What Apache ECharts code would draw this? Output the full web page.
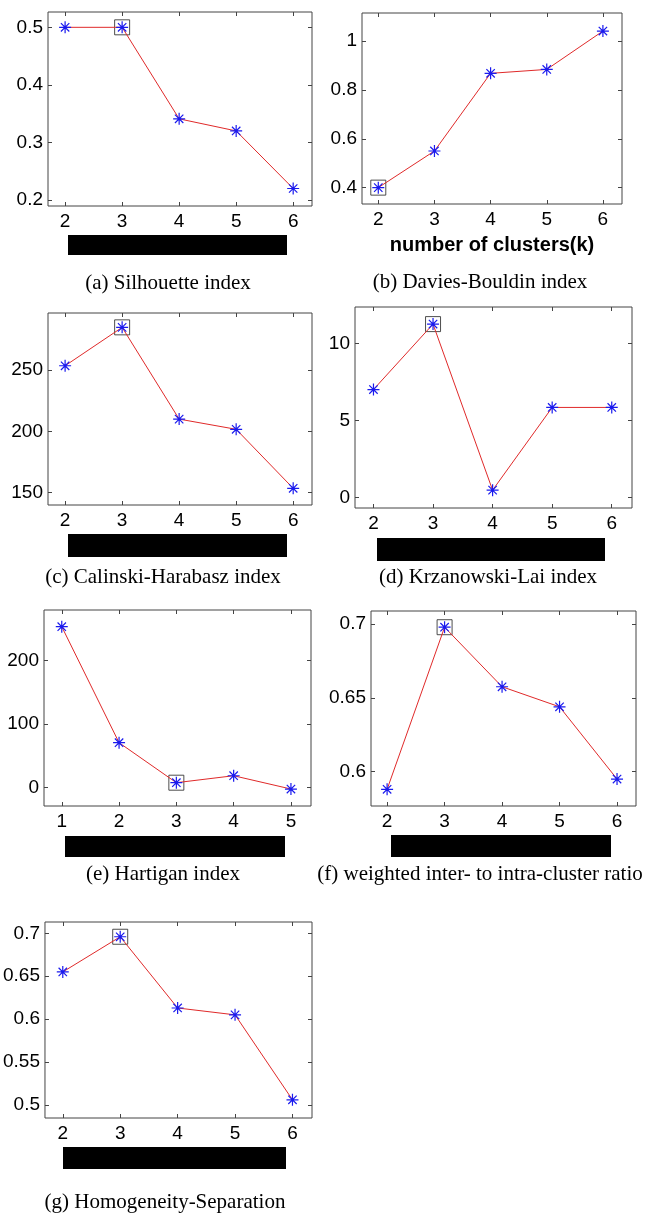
<!DOCTYPE html>
<html>
<head>
<meta charset="utf-8">
<script src="https://cdn.jsdelivr.net/npm/echarts@6/dist/echarts.min.js"></script>
<style>
html, body { margin: 0; padding: 0; background: #fff; }
#main { width: 664px; height: 1213px; }
</style>
</head>
<body>
<div id="main"></div>
<script>
// number of clusters on the x axis
var kTicks = [2, 3, 4, 5, 6];
var kTicksHartigan = [1, 2, 3, 4, 5];

// index values, one array per panel
var silhouette = [0.5, 0.5, 0.341, 0.32, 0.22];
var daviesBouldin = [0.40, 0.55, 0.868, 0.884, 1.041];
var calinski = [253.5, 284.8, 210, 201.7, 153.6];
var krzanowski = [7.0, 11.25, 0.47, 5.84, 5.84];
var hartigan = [253.7, 70.5, 7.3, 18.3, -2.7];
var weightedRatio = [0.588, 0.698, 0.6576, 0.644, 0.595];
var homSep = [0.655, 0.696, 0.613, 0.605, 0.506];

// boxed (chosen) k per panel
var bestK = [3, 2, 3, 3, 3, 3, 3];

// y tick labels per panel
var yTicksA = [0.2, 0.3, 0.4, 0.5];
var yTicksB = [0.4, 0.6, 0.8, 1];
var yTicksC = [150, 200, 250];
var yTicksD = [0, 5, 10];
var yTicksE = [0, 100, 200];
var yTicksF = [0.6, 0.65, 0.7];
var yTicksG = [0.5, 0.55, 0.6, 0.65, 0.7];

var captions = [
  '(a) Silhouette index',
  '(b) Davies-Bouldin index',
  '(c) Calinski-Harabasz index',
  '(d) Krzanowski-Lai index',
  '(e) Hartigan index',
  '(f) weighted inter- to intra-cluster ratio',
  '(g) Homogeneity-Separation'
];
var xLabelB = 'number of clusters(k)';

// layout of the subplots (pixels) and axis ranges
var panels = [
  { vals: silhouette, xt: kTicks, yt: yTicksA, grid: [48, 12, 264, 194], x: [1.7, 6.33], y: [0.1896, 0.5266], bar: [68, 235, 219, 20], cap: [168, 283] },
  { vals: daviesBouldin, xt: kTicks, yt: yTicksB, grid: [362, 13, 260, 191], x: [1.71, 6.34], y: [0.333, 1.115], bar: null, cap: [480, 282] },
  { vals: calinski, xt: kTicks, yt: yTicksC, grid: [48, 313, 264, 192], x: [1.7, 6.33], y: [140, 296.5], bar: [68, 534, 219, 23], cap: [163, 577] },
  { vals: krzanowski, xt: kTicks, yt: yTicksD, grid: [355, 307, 277, 201], x: [1.69, 6.34], y: [-0.69, 12.36], bar: [377, 538, 228, 23], cap: [488, 577] },
  { vals: hartigan, xt: kTicksHartigan, yt: yTicksE, grid: [44, 610, 267, 196], x: [0.69, 5.35], y: [-29.5, 280], bar: [65, 836, 220, 21], cap: [163, 874] },
  { vals: weightedRatio, xt: kTicks, yt: yTicksF, grid: [371, 611, 265, 195], x: [1.72, 6.33], y: [0.5767, 0.709], bar: [391, 835, 220, 22], cap: [480, 874] },
  { vals: homSep, xt: kTicks, yt: yTicksG, grid: [43, 922, 269, 196], x: [1.69, 6.34], y: [0.4848, 0.7132], bar: [63, 1147, 223, 22], cap: [165, 1202] }
];

var star = 'path://M0,6L12,6M6,0L6,12M1.8,1.8L10.2,10.2M10.2,1.8L1.8,10.2';
var tickFont = 'Liberation Sans';

var grids = [], xAxes = [], yAxes = [], series = [], graphics = [];

panels.forEach(function (p, i) {
  grids.push({
    left: p.grid[0], top: p.grid[1], width: p.grid[2], height: p.grid[3],
    show: true, borderColor: '#444', borderWidth: 1, backgroundColor: '#fff'
  });
  ['bottom', 'top'].forEach(function (pos) {
    var ax = {
      type: 'value', gridIndex: i, position: pos, min: p.x[0], max: p.x[1],
      axisLine: { show: false, onZero: false }, splitLine: { show: false },
      axisTick: { inside: true, length: 4, lineStyle: { color: '#444' }, customValues: p.xt },
      axisLabel: {
        show: pos === 'bottom', customValues: p.xt, color: '#000',
        fontFamily: tickFont, fontSize: 19, margin: 6,
        formatter: function (v) { return String(v); }
      }
    };
    if (i === 1 && pos === 'bottom') {
      ax.name = xLabelB;
      ax.nameLocation = 'middle';
      ax.nameGap = 31;
      ax.nameTextStyle = { color: '#000', fontFamily: tickFont, fontWeight: 'bold', fontSize: 20 };
    }
    xAxes.push(ax);
  });
  ['left', 'right'].forEach(function (pos) {
    yAxes.push({
      type: 'value', gridIndex: i, position: pos, min: p.y[0], max: p.y[1],
      axisLine: { show: false, onZero: false }, splitLine: { show: false },
      axisTick: { inside: true, length: 4, lineStyle: { color: '#444' }, customValues: p.yt },
      axisLabel: {
        show: pos === 'left', customValues: p.yt, color: '#000',
        fontFamily: tickFont, fontSize: 19, margin: 5,
        formatter: function (v) { return String(v); }
      }
    });
  });

  var pts = p.xt.map(function (k, j) { return [k, p.vals[j]]; });
  var bi = p.xt.indexOf(bestK[i]);

  series.push({
    type: 'scatter', xAxisIndex: 2 * i, yAxisIndex: 2 * i,
    data: [pts[bi]], symbol: 'rect', symbolSize: 15, z: 2,
    itemStyle: { color: 'rgba(0,0,0,0)', borderColor: '#222', borderWidth: 1 },
    silent: true
  });
  series.push({
    type: 'line', xAxisIndex: 2 * i, yAxisIndex: 2 * i,
    data: pts, symbol: star, symbolSize: 12, showSymbol: true, z: 3,
    lineStyle: { color: '#e02a2a', width: 1 },
    itemStyle: { color: 'rgba(0,0,0,0)', borderColor: '#1a1aee', borderWidth: 1.2 },
    silent: true
  });

  if (p.bar) {
    graphics.push({
      type: 'rect', shape: { x: p.bar[0], y: p.bar[1], width: p.bar[2], height: p.bar[3] },
      style: { fill: '#000' }
    });
  }
  graphics.push({
    type: 'text', x: p.cap[0], y: p.cap[1],
    style: {
      text: captions[i], font: '21px "Liberation Serif"', fill: '#000',
      align: 'center', verticalAlign: 'middle',
      textAlign: 'center', textVerticalAlign: 'middle'
    }
  });
});

var chart = echarts.init(document.getElementById('main'));
chart.setOption({
  animation: false,
  backgroundColor: '#fff',
  grid: grids,
  xAxis: xAxes,
  yAxis: yAxes,
  series: series,
  graphic: { elements: graphics }
});
</script>
</body>
</html>
